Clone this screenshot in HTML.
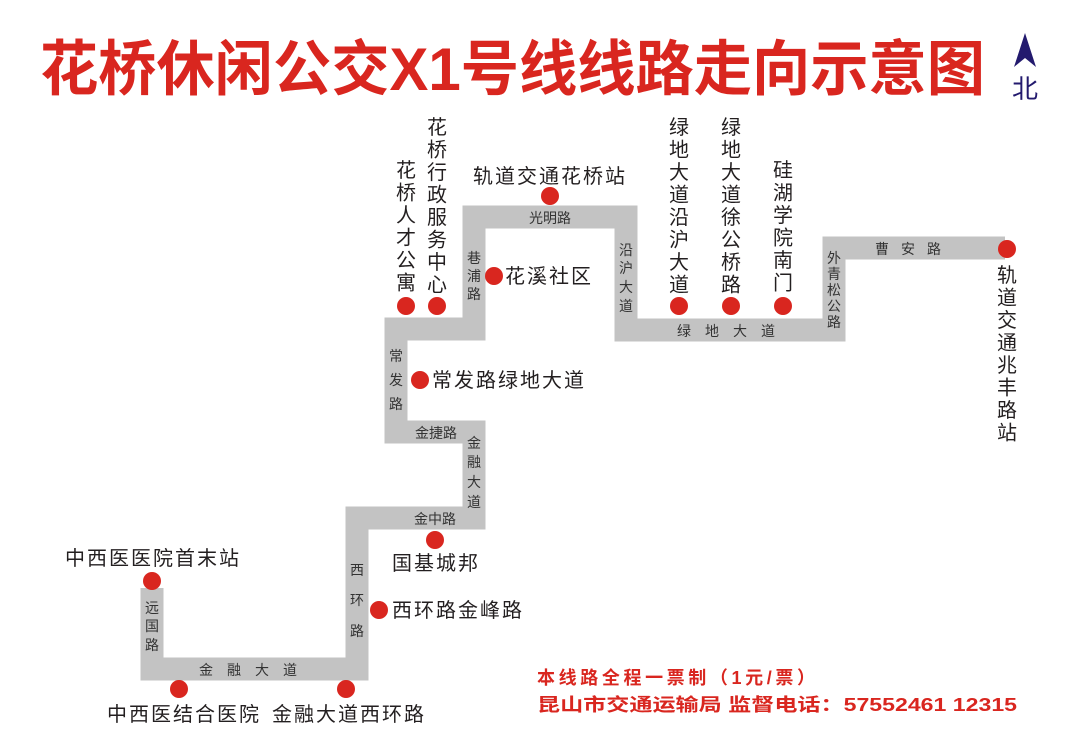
<!DOCTYPE html>
<html><head><meta charset="utf-8"><style>
html,body{margin:0;padding:0;background:#fff;}
svg{display:block;}
.st{font-family:"Liberation Sans","Noto Sans CJK SC",sans-serif;font-size:20px;fill:#231f20;letter-spacing:2px;}
.rd{font-family:"Liberation Sans","Noto Sans CJK SC",sans-serif;font-size:14px;fill:#333;}
</style></head><body>
<svg width="1080" height="756" viewBox="0 0 1080 756" xmlns="http://www.w3.org/2000/svg">
<rect width="1080" height="756" fill="#fff"/>
<text x="40" y="90" textLength="945" lengthAdjust="spacingAndGlyphs" font-family="Liberation Sans,Noto Sans CJK SC,sans-serif" font-weight="bold" font-size="60" fill="#d9261f">花桥休闲公交X1号线线路走向示意图</text>
<polygon points="1025,33 1036,67 1025,58 1014,67" fill="#231a6e"/>
<text x="1025" y="98" text-anchor="middle" font-family="Noto Sans CJK SC,sans-serif" font-size="26" fill="#231a6e">北</text>

<polyline points="152,588 152,669 357,669 357,518 474,518 474,432 396,432 396,329 474,329 474,217 626,217 626,330 834,330 834,248 1005,248" fill="none" stroke="#c3c3c3" stroke-width="23" stroke-linejoin="miter" stroke-linecap="butt"/>

<g class="rd" text-anchor="middle">
<text x="152" y="613">远</text><text x="152" y="631">国</text><text x="152" y="650">路</text>
<text x="255" y="675" letter-spacing="14">金融大道</text>
<text x="357" y="575">西</text><text x="357" y="605">环</text><text x="357" y="636">路</text>
<text x="435" y="524">金中路</text>
<text x="474" y="448">金</text><text x="474" y="467">融</text><text x="474" y="487">大</text><text x="474" y="507">道</text>
<text x="436" y="438">金捷路</text>
<text x="396" y="361">常</text><text x="396" y="385">发</text><text x="396" y="409">路</text>
<text x="474" y="263">巷</text><text x="474" y="281">浦</text><text x="474" y="299">路</text>
<text x="550" y="223">光明路</text>
<text x="626" y="255">沿</text><text x="626" y="273">沪</text><text x="626" y="292">大</text><text x="626" y="311">道</text>
<text x="733" y="336" letter-spacing="14">绿地大道</text>
<text x="834" y="263">外</text><text x="834" y="279">青</text><text x="834" y="295">松</text><text x="834" y="311">公</text><text x="834" y="327">路</text>
<text x="914" y="254" letter-spacing="12">曹安路</text>
</g>

<g fill="#d9261f">
<circle cx="152" cy="581" r="9"/><circle cx="179" cy="689" r="9"/><circle cx="346" cy="689" r="9"/>
<circle cx="379" cy="610" r="9"/><circle cx="435" cy="540" r="9"/><circle cx="420" cy="380" r="9"/>
<circle cx="406" cy="306" r="9"/><circle cx="437" cy="306" r="9"/><circle cx="494" cy="276" r="9"/>
<circle cx="550" cy="196" r="9"/><circle cx="679" cy="306" r="9"/><circle cx="731" cy="306" r="9"/>
<circle cx="783" cy="306" r="9"/><circle cx="1007" cy="249" r="9"/>
</g>

<g class="st">
<text x="550" y="183" text-anchor="middle">轨道交通花桥站</text>
<text x="505" y="283">花溪社区</text>
<text x="432" y="387">常发路绿地大道</text>
<text x="392" y="570">国基城邦</text>
<text x="392" y="617">西环路金峰路</text>
<text x="65" y="565">中西医医院首末站</text>
<text x="107" y="721">中西医结合医院</text>
<text x="272" y="721">金融大道西环路</text>
</g>
<g class="st" text-anchor="middle" style="letter-spacing:0">
<text x="406" y="177"><tspan x="406">花</tspan><tspan x="406" dy="22.5">桥</tspan><tspan x="406" dy="22.5">人</tspan><tspan x="406" dy="22.5">才</tspan><tspan x="406" dy="22.5">公</tspan><tspan x="406" dy="22.5">寓</tspan></text>
<text x="437" y="134"><tspan x="437">花</tspan><tspan x="437" dy="22.5">桥</tspan><tspan x="437" dy="22.5">行</tspan><tspan x="437" dy="22.5">政</tspan><tspan x="437" dy="22.5">服</tspan><tspan x="437" dy="22.5">务</tspan><tspan x="437" dy="22.5">中</tspan><tspan x="437" dy="22.5">心</tspan></text>
<text x="679" y="134"><tspan x="679">绿</tspan><tspan x="679" dy="22.5">地</tspan><tspan x="679" dy="22.5">大</tspan><tspan x="679" dy="22.5">道</tspan><tspan x="679" dy="22.5">沿</tspan><tspan x="679" dy="22.5">沪</tspan><tspan x="679" dy="22.5">大</tspan><tspan x="679" dy="22.5">道</tspan></text>
<text x="731" y="134"><tspan x="731">绿</tspan><tspan x="731" dy="22.5">地</tspan><tspan x="731" dy="22.5">大</tspan><tspan x="731" dy="22.5">道</tspan><tspan x="731" dy="22.5">徐</tspan><tspan x="731" dy="22.5">公</tspan><tspan x="731" dy="22.5">桥</tspan><tspan x="731" dy="22.5">路</tspan></text>
<text x="783" y="177"><tspan x="783">硅</tspan><tspan x="783" dy="22.5">湖</tspan><tspan x="783" dy="22.5">学</tspan><tspan x="783" dy="22.5">院</tspan><tspan x="783" dy="22.5">南</tspan><tspan x="783" dy="22.5">门</tspan></text>
<text x="1007" y="282"><tspan x="1007">轨</tspan><tspan x="1007" dy="22.5">道</tspan><tspan x="1007" dy="22.5">交</tspan><tspan x="1007" dy="22.5">通</tspan><tspan x="1007" dy="22.5">兆</tspan><tspan x="1007" dy="22.5">丰</tspan><tspan x="1007" dy="22.5">路</tspan><tspan x="1007" dy="22.5">站</tspan></text>
</g>

<g font-family="Liberation Sans,Noto Sans CJK SC,sans-serif" font-weight="bold" font-size="18" fill="#d9261f">
<text x="537" y="684" textLength="278" lengthAdjust="spacing">本线路全程一票制（1元/票）</text>
<text x="537" y="711" textLength="480" lengthAdjust="spacingAndGlyphs">昆山市交通运输局  监督电话：57552461  12315</text>
</g>
</svg>
</body></html>
